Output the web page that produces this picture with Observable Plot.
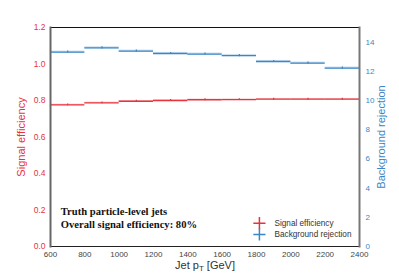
<!DOCTYPE html>
<html><head><meta charset="utf-8">
<script src="https://cdn.jsdelivr.net/npm/d3@7"></script>
<script src="https://cdn.jsdelivr.net/npm/@observablehq/plot@0.6"></script>
<style>
body{margin:0;background:#fff;}
#chart{position:absolute;left:0;top:0;}
</style>
</head><body><div id="chart"></div>
<script>
const binLo = [600, 800, 1000, 1200, 1400, 1600, 1800, 2000, 2200];
const binHi = [800, 1000, 1200, 1400, 1600, 1800, 2000, 2200, 2400];
const sigEff = [0.776, 0.787, 0.796, 0.800, 0.804, 0.805, 0.807, 0.807, 0.807];
const bkgRej = [13.31, 13.61, 13.38, 13.22, 13.18, 13.08, 12.67, 12.56, 12.22];
const xTicks = [600, 800, 1000, 1200, 1400, 1600, 1800, 2000, 2200, 2400];
const leftTicks = [0, 0.2, 0.4, 0.6, 0.8, 1.0, 1.2];
const rightTicks = [0, 2, 4, 6, 8, 10, 12, 14];
const rightMax = 15, leftMax = 1.2;
const RED = "#e8333b", BLUE = "#3b87c6";
const toLeft = v => v * leftMax / rightMax;

const sig = binLo.map((lo, i) => ({lo, hi: binHi[i], mid: (lo + binHi[i]) / 2, y: sigEff[i]}));
const bkg = binLo.map((lo, i) => ({lo, hi: binHi[i], mid: (lo + binHi[i]) / 2, y: toLeft(bkgRej[i])}));

const W = 399, H = 274;
const plot = Plot.plot({
  width: W, height: H,
  marginLeft: 50, marginRight: 40, marginTop: 27, marginBottom: 28,
  style: {fontFamily: "Liberation Sans, Arial, sans-serif", fontSize: "8px", background: "white"},
  x: {domain: [600, 2400]},
  y: {domain: [0, leftMax]},
  marks: [
    // uncertainty bands
    Plot.rect(sig, {x1: "lo", x2: "hi", y1: d => d.y - 0.004, y2: d => d.y + 0.004, fill: RED, fillOpacity: 0.25}),
    Plot.rect(bkg, {x1: "lo", x2: "hi", y1: d => d.y - 0.006, y2: d => d.y + 0.006, fill: BLUE, fillOpacity: 0.25}),
    Plot.ruleY(sig, {x1: "lo", x2: "hi", y: "y", stroke: RED, strokeWidth: 1.3}),
    Plot.ruleY(bkg, {x1: "lo", x2: "hi", y: "y", stroke: BLUE, strokeWidth: 1.3}),
    Plot.ruleX(sig, {x: "mid", y1: d => d.y - 0.005, y2: d => d.y + 0.005, stroke: RED, strokeWidth: 1.2}),
    Plot.ruleX(bkg, {x: "mid", y1: d => d.y - 0.006, y2: d => d.y + 0.006, stroke: BLUE, strokeWidth: 1.2}),
    // frame
    Plot.frame({anchor: "top", stroke: "#111", strokeWidth: 1}),
    Plot.frame({anchor: "bottom", stroke: "#222", strokeWidth: 1.2}),
    Plot.frame({anchor: "left", stroke: "#666", strokeWidth: 2}),
    Plot.frame({anchor: "right", stroke: "#777", strokeWidth: 2}),
    Plot.axisX({ticks: xTicks, tickSize: 0, tickPadding: 5, fill: "#444", label: null, tickFormat: d3.format("d"), fontSize: 8}),
    Plot.axisY({ticks: leftTicks, tickSize: 0, tickPadding: 5, fill: RED, label: null, tickFormat: d3.format(".1f"), fontSize: 8.5}),
    Plot.axisY({anchor: "right", ticks: rightTicks.map(toLeft), tickSize: 0, tickPadding: 6, fill: BLUE, label: null,
      tickFormat: d => String(Math.round(d * rightMax / leftMax)), fontSize: 8}),
    // legend
    Plot.dot([{x: 1817, y: 0.128}], {x: "x", y: "y", symbol: "plus", r: 4, stroke: RED, strokeWidth: 1.5}),
    Plot.dot([{x: 1817, y: 0.066}], {x: "x", y: "y", symbol: "plus", r: 4, stroke: BLUE, strokeWidth: 1.5}),
    Plot.text(["Signal efficiency"], {x: 1905, y: 0.128, text: d => d, textAnchor: "start", fill: "#333", fontSize: 8.2}),
    Plot.text(["Background rejection"], {x: 1905, y: 0.066, text: d => d, textAnchor: "start", fill: "#333", fontSize: 8.2}),
    // annotation
    Plot.text(["Truth particle-level jets"], {x: 660, y: 0.192, text: d => d, textAnchor: "start", fill: "#111",
      fontFamily: "Liberation Serif, Times New Roman, serif", fontWeight: "bold", fontSize: 10.6}),
    Plot.text(["Overall signal efficiency: 80%"], {x: 660, y: 0.12, text: d => d, textAnchor: "start", fill: "#111",
      fontFamily: "Liberation Serif, Times New Roman, serif", fontWeight: "bold", fontSize: 10.6})
  ]
});
const svg = d3.select(plot);
// axis titles
svg.append("text").attr("x", 205).attr("y", 269).attr("text-anchor", "middle")
  .attr("font-size", 11).attr("fill", "#333").attr("font-family", "Liberation Sans, Arial, sans-serif")
  .html('Jet p<tspan dy="2" font-size="8">T</tspan><tspan dy="-2"> [GeV]</tspan>');
svg.append("text").attr("transform", "translate(25,137) rotate(-90)").attr("text-anchor", "middle")
  .attr("font-size", 11).attr("fill", RED).attr("font-family", "Liberation Sans, Arial, sans-serif")
  .text("Signal efficiency");
svg.append("text").attr("transform", "translate(385,137) rotate(-90)").attr("text-anchor", "middle")
  .attr("font-size", 11).attr("fill", BLUE).attr("font-family", "Liberation Sans, Arial, sans-serif")
  .text("Background rejection");
document.getElementById("chart").appendChild(plot);
</script>
</body></html>
